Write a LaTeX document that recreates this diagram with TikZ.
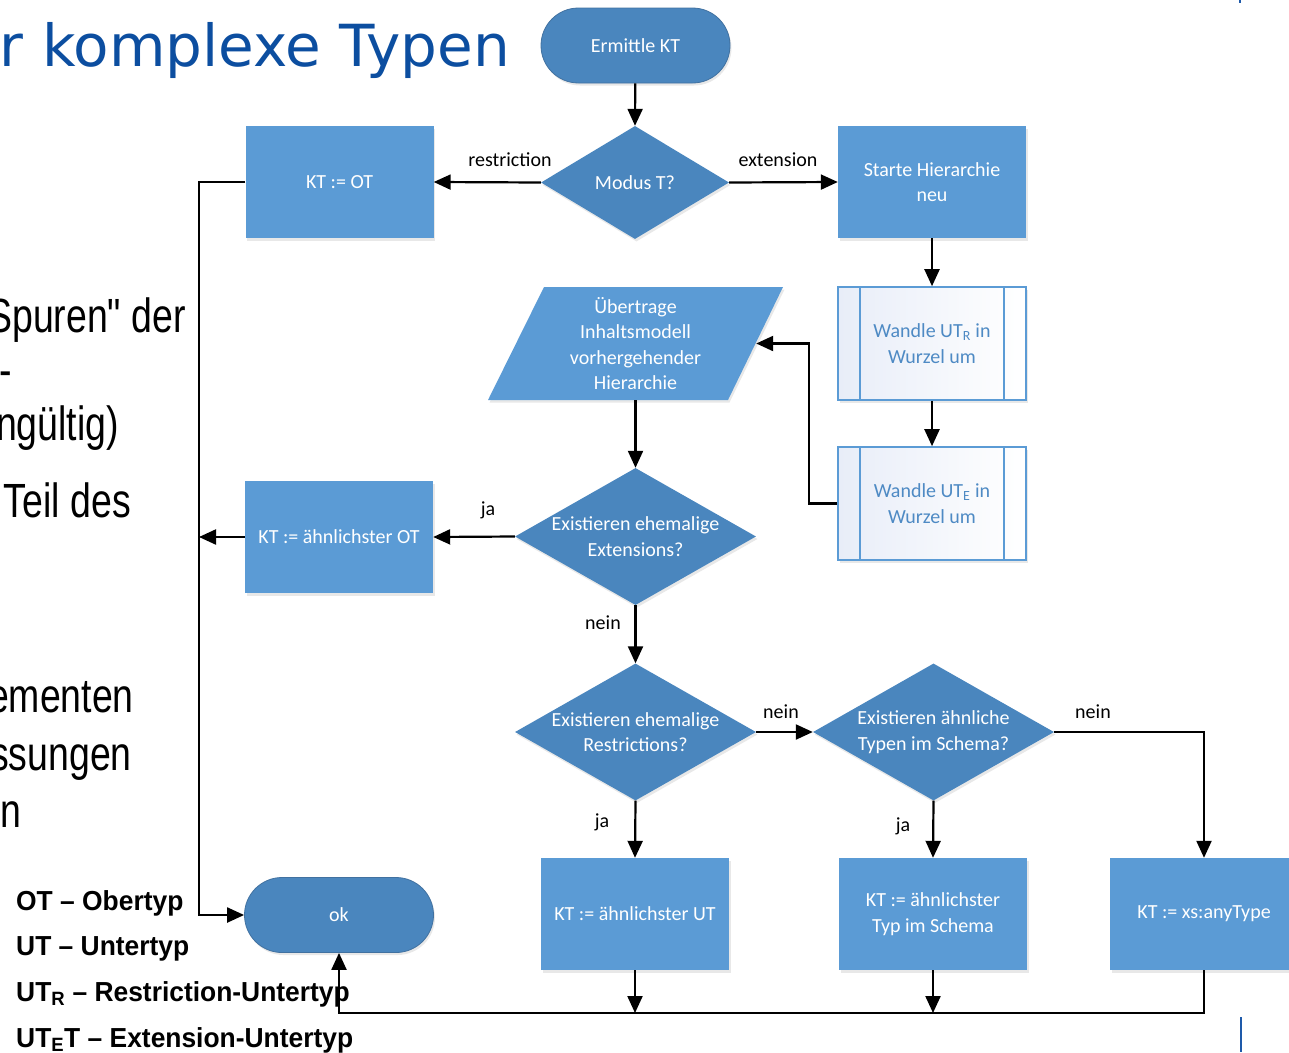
\documentclass[tikz,border=0pt]{standalone}
\usepackage{fontspec}
\usetikzlibrary{arrows.meta,shapes.geometric,shadows}
\newfontfamily\chartfont{Carlito}
\newfontfamily\slidefont[FakeStretch=0.78]{Liberation Sans}
\newfontfamily\legendfont[FakeStretch=0.96]{Liberation Sans}
\newfontfamily\headfont{DejaVu Sans}
\definecolor{boxblue}{RGB}{91,155,213}
\definecolor{decblue}{RGB}{74,134,190}
\definecolor{rimblue}{RGB}{65,113,160}
\definecolor{titleblue}{RGB}{12,78,160}
\definecolor{predeffill}{RGB}{232,237,248}
\definecolor{predeftext}{RGB}{78,138,196}
\definecolor{framebl}{RGB}{30,90,170}

\begin{document}
\begin{tikzpicture}[x=1pt,y=-1pt,
  chart/.style={font=\chartfont\fontsize{20pt}{25.5pt}\selectfont},
  softshadow/.style={drop shadow={opacity=0.18,shadow xshift=1.5pt,shadow yshift=-2.5pt}},
  proc/.style={chart,rectangle,fill=boxblue,text=white,align=center,inner sep=0pt,
    minimum width=188pt,minimum height=112pt,softshadow},
  term/.style={chart,rectangle,rounded corners=37.5pt,fill=decblue,draw=rimblue,line width=0.8pt,
    text=white,inner sep=0pt,minimum width=189pt,minimum height=75pt,softshadow},
  decision/.style={diamond,fill=decblue,inner sep=0pt,minimum width=241pt,minimum height=137pt,softshadow},
  dtxt/.style={chart,text=white,align=center,inner sep=0pt},
  predef/.style={chart,rectangle,draw=boxblue,line width=1.6pt,left color=predeffill,right color=white,
    text=predeftext,align=center,inner sep=0pt,minimum width=188pt,minimum height=113pt,softshadow,
    path picture={
      \draw[boxblue,line width=1.6pt] ([xshift=22pt]path picture bounding box.north west) -- ([xshift=22pt]path picture bounding box.south west);
      \draw[boxblue,line width=1.6pt] ([xshift=-22pt]path picture bounding box.north east) -- ([xshift=-22pt]path picture bounding box.south east);}},
  flow/.style={line width=2.2pt,-{Triangle[length=17pt,width=15pt]}},
  wire/.style={line width=2.2pt},
  elabel/.style={chart,text=black,inner sep=0pt},
  slidetxt/.style={font=\slidefont\fontsize{48pt}{52pt}\selectfont,inner sep=0pt,anchor=base east},
  legend/.style={font=\legendfont\bfseries\fontsize{27.5pt}{33pt}\selectfont,inner sep=0pt,anchor=base west},
]
\path[use as bounding box] (0,0) rectangle (1289,1052);
\clip (0,0) rectangle (1289,1052);

% slide heading and body text behind the chart
\node[font=\headfont\fontsize{58pt}{60pt}\selectfont,text=titleblue,inner sep=0pt,anchor=base east] (head) at (510,66) {r komplexe Typen};
\node[slidetxt] (b1) at (186,332) {Spuren" der};
\node[slidetxt] (b2) at (12,386) {-};
\node[slidetxt] (b3) at (119,440) {ngültig)};
\node[slidetxt] (b4) at (131,517) {Teil des};
\node[slidetxt] (b5) at (134,712) {ementen};
\node[slidetxt] (b6) at (132,770) {ssungen};
\node[slidetxt] (b7) at (22,827) {n};

% abbreviations
\node[legend] (l1) at (16,910) {OT – Obertyp};
\node[legend] (l2) at (16,955) {UT – Untertyp};
\node[legend] (l3) at (16,1001) {UT\textsubscript{R} – Restriction-Untertyp};
\node[legend] (l4) at (16,1047) {UT\textsubscript{E}T – Extension-Untertyp};

% slide frame marks
\draw[framebl,line width=1.5pt] (1241,1017) -- (1241,1052);
\draw[framebl,line width=1.5pt] (1240,0) -- (1240,3);

% flowchart nodes
\node[term] (start) at (635.5,45.5) {Ermittle KT};
\node[decision,minimum width=188pt,minimum height=113pt,label={[dtxt]center:Modus T?}] (modus) at (635,182.5) {};
\node[proc] (ktot) at (339.5,182) {KT := OT};
\node[proc] (neu) at (932,182) {Starte Hierarchie\\neu};
\node[predef] (wur) at (932,343.5) {Wandle UT\textsubscript{R} in\\Wurzel um};
\node[predef] (wue) at (932,503.5) {Wandle UT\textsubscript{E} in\\Wurzel um};
\fill[boxblue,softshadow] (544,287) -- (783,287) -- (728,400) -- (488,400) -- cycle;
\node[chart,text=white,align=center,inner sep=0pt,minimum width=241pt,minimum height=113pt] (ueb) at (635.5,343.5)
  {Übertrage\\Inhaltsmodell\\vorhergehender\\Hierarchie};
\node[decision,label={[dtxt]center:Existieren ehemalige\\Extensions?}] (ext) at (635.5,536.5) {};
\node[proc] (ktaot) at (339,537) {KT := ähnlichster OT};
\node[decision,label={[dtxt]center:Existieren ehemalige\\Restrictions?}] (res) at (635.5,732) {};
\node[decision,label={[dtxt]center:Existieren ähnliche\\Typen im Schema?}] (aehn) at (933.5,732) {};
\node[proc] (ktaut) at (635,914) {KT := ähnlichster UT};
\node[proc] (ktatyp) at (933,914) {KT := ähnlichster\\Typ im Schema};
\node[proc] (ktany) at (1204,914) {KT := xs:anyType};
\node[term] (ok) at (339,915) {ok};

% junction points of the left rail and the bottom bus
\coordinate (railtop) at (199,182);
\coordinate (railmid) at (199,537);
\coordinate (busR) at (1204,1013);
\coordinate (busL) at (339,1013);
\coordinate (busA) at (635,1013);
\coordinate (busB) at (933,1013);

% connectors
\draw[flow] (start) -- (modus.north);
\draw[flow] (modus.west) -- (ktot.east);
\draw[flow] (modus.east) -- (neu.west);
\draw[flow] (neu) -- (wur);
\draw[flow] (wur) -- (wue);
\draw[flow] (wue.west) -- ++(-28pt,0pt) |- (ueb.east);
\draw[flow] (ueb.south) -- (ext.north);
\draw[flow] (ext.west) -- (ktaot.east);
\draw[flow] (ext.south) -- (res.north);
\draw[flow] (res.east) -- (aehn.west);
\draw[flow] (aehn.east) -| (ktany.north);
\draw[flow] (res.south) -- (ktaut.north);
\draw[flow] (aehn.south) -- (ktatyp.north);
\draw[flow] (ktot.west) -- (railtop) |- (ok.west);
\draw[flow] (ktaot.west) -- (railmid);
\draw[flow] (ktaut.south) -- (busA);
\draw[flow] (ktatyp.south) -- (busB);
\draw[flow] (ktany.south) -- (busR) -- (busL) -- (ok.south);

% connector labels
\node[elabel] (lrestr) at (510,160) {restriction};
\node[elabel] (lext) at (778,160) {extension};
\node[elabel] (lja1) at (488,510) {ja};
\node[elabel] (lnein1) at (603,623) {nein};
\node[elabel] (lnein2) at (781,712) {nein};
\node[elabel] (lnein3) at (1093,712) {nein};
\node[elabel] (lja2) at (602,822) {ja};
\node[elabel] (lja3) at (903,826) {ja};
\end{tikzpicture}
\end{document}
